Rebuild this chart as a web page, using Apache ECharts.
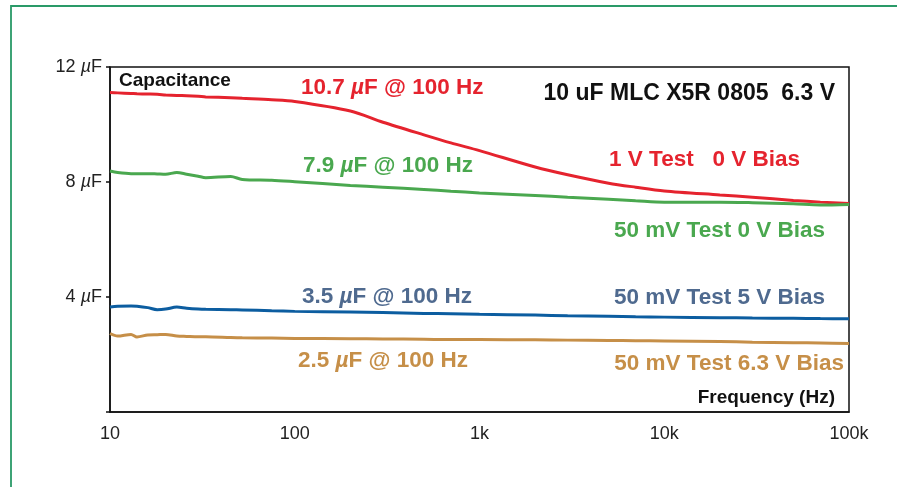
<!DOCTYPE html>
<html>
<head>
<meta charset="utf-8">
<script src="https://cdn.jsdelivr.net/npm/echarts@6/dist/echarts.min.js"></script>
<style>
  html, body { margin: 0; padding: 0; background: #fff; }
  #main { width: 897px; height: 487px; }
</style>
</head>
<body>
<div id="main"></div>
<script>
// frequencies in Hz, shared by all four traces
var freqs = [10, 11, 13, 14, 16, 18, 20, 23, 26, 30, 33, 45, 52, 75, 100, 200, 300, 500, 700,
  1000, 2000, 3000, 5000, 7000, 10000, 20000, 30000, 50000, 70000, 100000];

// capacitance in uF
var test1V_bias0 = [11.11, 11.10, 11.08, 11.07, 11.06, 11.05, 11.03, 11.01, 11.00, 10.98, 10.96, 10.93, 10.91, 10.86, 10.80,
  10.47, 10.08, 9.64, 9.36, 9.09, 8.52, 8.25, 7.96, 7.82, 7.69, 7.55, 7.47, 7.36, 7.30, 7.25];
var test50mV_bias0 = [8.38, 8.33, 8.29, 8.29, 8.29, 8.28, 8.27, 8.33, 8.27, 8.20, 8.15, 8.19, 8.09, 8.06, 8.01,
  7.88, 7.82, 7.74, 7.68, 7.62, 7.53, 7.47, 7.40, 7.35, 7.30, 7.30, 7.28, 7.24, 7.20, 7.22];
var test50mV_bias5 = [3.65, 3.68, 3.69, 3.68, 3.63, 3.56, 3.58, 3.65, 3.61, 3.58, 3.57, 3.56, 3.55, 3.52, 3.50,
  3.48, 3.46, 3.43, 3.42, 3.40, 3.37, 3.35, 3.33, 3.31, 3.30, 3.28, 3.27, 3.26, 3.25, 3.24];
var test50mV_bias63 = [2.73, 2.64, 2.70, 2.61, 2.68, 2.69, 2.70, 2.64, 2.63, 2.62, 2.62, 2.59, 2.58, 2.57, 2.56,
  2.55, 2.54, 2.53, 2.52, 2.52, 2.51, 2.50, 2.49, 2.48, 2.47, 2.45, 2.43, 2.41, 2.40, 2.38];

var xTickLabels = { 10: '10', 100: '100', 1000: '1k', 10000: '10k', 100000: '100k' };

var font = 'Liberation Sans, Arial, sans-serif';
var RED = '#e5232e', GREEN = '#4aa84f', BLUE = '#0c5da0', TAN = '#c68f48';
var BLUE_TXT = '#4f6a8f';
var NOTE_SIZE = 22.5;

function pairs(vals) {
  return freqs.map(function (f, i) { return [f, vals[i]]; });
}

function line(name, vals, color) {
  return {
    name: name, type: 'line', data: pairs(vals),
    showSymbol: false, smooth: 0.3,
    lineStyle: { color: color, width: 3 }
  };
}

// bold annotation, optionally with an italic mu in the middle
function note(x, y, before, after, color, align) {
  var s = { fontFamily: font, fontWeight: 'bold', fontSize: NOTE_SIZE, fill: color };
  var it = Object.assign({}, s, { fontStyle: 'italic' });
  var txt = after == null ? '{b|' + before + '}' : '{b|' + before + '}{i|µ}{b|' + after + '}';
  return {
    type: 'text', x: x, y: y, z: 10,
    style: {
      text: txt, rich: { b: s, i: it },
      fontFamily: font, fontWeight: 'bold', fontSize: NOTE_SIZE, fill: color,
      textAlign: align || 'left', textVerticalAlign: 'middle'
    }
  };
}

var chart = echarts.init(document.getElementById('main'));

var option = {
  animation: false,
  backgroundColor: '#fff',
  grid: {
    left: 110, top: 67, right: 48, bottom: 75,
    show: true, borderColor: '#111', borderWidth: 1.5
  },
  xAxis: {
    type: 'log', logBase: 10, min: 10, max: 100000,
    axisLine: { show: true, lineStyle: { color: '#111', width: 1.5 } },
    axisTick: { show: false },
    splitLine: { show: false },
    axisLabel: {
      margin: 13, fontFamily: font, fontSize: 18, color: '#222',
      formatter: function (v) { return xTickLabels[Math.round(v)] || ''; }
    }
  },
  yAxis: {
    type: 'value', min: 0, max: 12, interval: 4,
    axisLine: { show: true, lineStyle: { color: '#111', width: 1.5 } },
    axisTick: { show: true, length: 4, lineStyle: { color: '#111', width: 1.5 } },
    splitLine: { show: false },
    axisLabel: {
      margin: 8, color: '#222',
      formatter: function (v) { return v === 0 ? '' : '{n|' + v + ' }{i|µ}{n|F}'; },
      rich: {
        n: { fontFamily: font, fontSize: 18, color: '#222' },
        i: { fontFamily: font, fontSize: 18, color: '#222', fontStyle: 'italic' }
      }
    }
  },
  series: [
    line('1 V Test 0 V Bias', test1V_bias0, RED),
    line('50 mV Test 0 V Bias', test50mV_bias0, GREEN),
    line('50 mV Test 5 V Bias', test50mV_bias5, BLUE),
    line('50 mV Test 6.3 V Bias', test50mV_bias63, TAN)
  ],
  graphic: [
    {
      type: 'rect', shape: { x: 11, y: 6, width: 920, height: 520 },
      style: { fill: 'none', stroke: '#2a9a68', lineWidth: 1.8 }, z: 0
    },
    {
      type: 'text', x: 119, y: 81, z: 10,
      style: { text: 'Capacitance', fontFamily: font, fontWeight: 'bold', fontSize: 19, fill: '#111', textVerticalAlign: 'middle' }
    },
    {
      type: 'text', x: 835, y: 94, z: 10,
      style: { text: '10 uF MLC X5R 0805  6.3 V', fontFamily: font, fontWeight: 'bold', fontSize: 23, fill: '#111', textAlign: 'right', textVerticalAlign: 'middle' }
    },
    {
      type: 'text', x: 835, y: 398, z: 10,
      style: { text: 'Frequency (Hz)', fontFamily: font, fontWeight: 'bold', fontSize: 19, fill: '#111', textAlign: 'right', textVerticalAlign: 'middle' }
    },
    note(301, 88, '10.7 ', 'F @ 100 Hz', RED),
    note(303, 166, '7.9 ', 'F @ 100 Hz', GREEN),
    note(302, 297, '3.5 ', 'F @ 100 Hz', BLUE_TXT),
    note(298, 361, '2.5 ', 'F @ 100 Hz', TAN),
    note(800, 160, '1 V Test   0 V Bias', null, RED, 'right'),
    note(825, 231, '50 mV Test 0 V Bias', null, GREEN, 'right'),
    note(825, 298, '50 mV Test 5 V Bias', null, BLUE_TXT, 'right'),
    note(844, 364, '50 mV Test 6.3 V Bias', null, TAN, 'right')
  ]
};

chart.setOption(option);
</script>
</body>
</html>
